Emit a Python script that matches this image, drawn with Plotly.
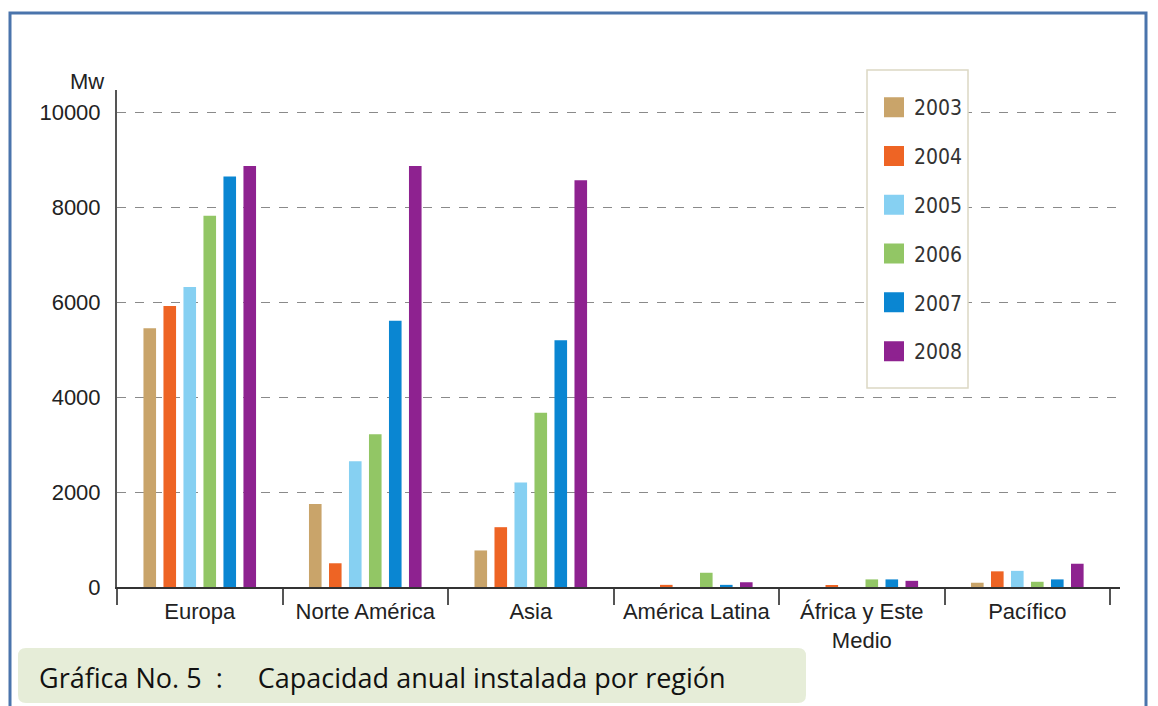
import plotly.graph_objects as go

# ---------------- data ----------------
regions = ["Europa", "Norte América", "Asia", "América Latina",
           "África y Este<br>Medio", "Pacífico"]
years = ["2003", "2004", "2005", "2006", "2007", "2008"]
v2003 = [5450, 1750, 770, 0, 0, 90]
v2004 = [5920, 500, 1260, 45, 40, 330]
v2005 = [6320, 2650, 2200, 0, 0, 340]
v2006 = [7820, 3220, 3670, 300, 160, 110]
v2007 = [8650, 5610, 5200, 45, 160, 160]
v2008 = [8870, 8870, 8570, 100, 130, 490]
series = [v2003, v2004, v2005, v2006, v2007, v2008]
colors = ["#C9A46A", "#EE6424", "#86D0F2", "#92C665", "#0A86D2", "#8E2290"]
y_ticks = [0, 2000, 4000, 6000, 8000, 10000]
y_ticktext = ["0", "2000", "4000", "6000", "8000", "10000"]

# ---------------- layout geometry (pixels) ----------------
W, H = 1158, 706
L, R, T, B = 117, 1120, 90, 587  # plot area edges


def px_x(x):
    return (x - L) / (R - L)


def px_y(y):
    return (B - y) / (B - T)


fig = go.Figure()
for yr, vals, col in zip(years, series, colors):
    fig.add_trace(go.Bar(x=regions, y=vals, name=yr, marker_color=col,
                         marker_line_width=0, showlegend=False))
    # legend entry with a larger square swatch
    fig.add_trace(go.Scatter(x=[None], y=[None], mode="markers", name=yr,
                             legendgroup=yr,
                             marker=dict(symbol="square", size=16, color=col,
                                         line=dict(color=col, width=4)),
                             showlegend=True))


def rounded_rect(x0, y0, x1, y1, r):
    X = lambda v: px_x(v)
    Y = lambda v: px_y(v)
    return (f"M {X(x0 + r)},{Y(y0)} L {X(x1 - r)},{Y(y0)} "
            f"Q {X(x1)},{Y(y0)} {X(x1)},{Y(y0 + r)} L {X(x1)},{Y(y1 - r)} "
            f"Q {X(x1)},{Y(y1)} {X(x1 - r)},{Y(y1)} L {X(x0 + r)},{Y(y1)} "
            f"Q {X(x0)},{Y(y1)} {X(x0)},{Y(y1 - r)} L {X(x0)},{Y(y0 + r)} "
            f"Q {X(x0)},{Y(y0)} {X(x0 + r)},{Y(y0)} Z")


shapes = [
    # outer blue frame
    dict(type="rect", xref="paper", yref="paper",
         x0=px_x(10), x1=px_x(1146), y0=px_y(13), y1=px_y(730),
         line=dict(color="#4A74AC", width=3), fillcolor="rgba(0,0,0,0)",
         layer="below"),
    # caption box
    dict(type="path", xref="paper", yref="paper",
         path=rounded_rect(18, 648, 806, 703, 8),
         fillcolor="#E6EDD8", line=dict(width=0), layer="below"),
    # legend frame
    dict(type="rect", xref="paper", yref="paper",
         x0=px_x(867), x1=px_x(968), y0=px_y(70), y1=px_y(388),
         fillcolor="white", line=dict(color="#DCD8C4", width=1.5),
         layer="above"),
]

nb = "\u00a0"
annotations = [
    dict(text="Mw", x=px_x(87), y=px_y(81), xref="paper", yref="paper",
         showarrow=False, xanchor="center", yanchor="middle",
         font=dict(family="Liberation Sans, Arial", size=22, color="#222")),
    dict(text="Gráfica No. 5" + nb * 2 + ":" + nb * 5 +
              "Capacidad anual instalada por región",
         x=px_x(37), y=px_y(677), xref="paper", yref="paper",
         showarrow=False, xanchor="left", yanchor="middle",
         font=dict(family="Open Sans, Noto Sans, sans-serif", size=27,
                   color="#111")),
]

fig.update_layout(
    width=W, height=H,
    margin=dict(l=L, r=W - R, t=T, b=H - B),
    paper_bgcolor="white", plot_bgcolor="white",
    barmode="group", bargap=0.275, bargroupgap=0.37,
    shapes=shapes, annotations=annotations,
    showlegend=True,
    legend=dict(x=px_x(874), y=px_y(87), xanchor="left", yanchor="top",
                bgcolor="rgba(0,0,0,0)", borderwidth=0,
                tracegroupgap=18.5, itemsizing="trace",
                font=dict(family="DejaVu Sans Condensed, Liberation Sans",
                          size=21, color="#333")),
    xaxis=dict(type="category", range=[-0.5, 5.56],
               showline=True, linecolor="#333", linewidth=2,
               ticks="outside", tickson="boundaries", ticklen=16,
               tickcolor="#555", tickwidth=1.5, showgrid=False,
               ticklabelstandoff=4,
               tickfont=dict(family="Liberation Sans, Arial", size=22,
                             color="#222")),
    yaxis=dict(range=[0, 10470], tickvals=y_ticks, ticktext=y_ticktext,
               showline=True, linecolor="#555", linewidth=2,
               showgrid=True, gridcolor="#8A8A8A", griddash="dash",
               gridwidth=1, zeroline=False, ticks="",
               ticklabelstandoff=10,
               tickfont=dict(family="Liberation Sans, Arial", size=22,
                             color="#222")),
)

fig.write_html("out.html")
